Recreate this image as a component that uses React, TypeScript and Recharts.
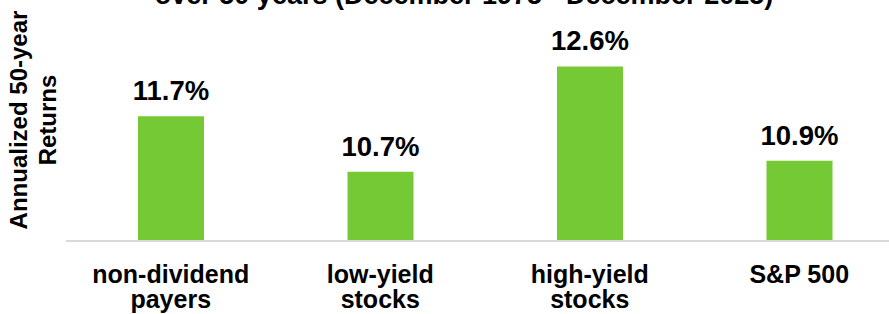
import { BarChart, Bar, XAxis, YAxis, LabelList } from "recharts";

const categories = ["non-dividend\npayers", "low-yield\nstocks", "high-yield\nstocks", "S&P 500"];
const returns = [11.7, 10.7, 12.6, 10.9];
const yLabelLines = ["Annualized 50-year", "Returns"];
const title = "over 50 years (December 1975 - December 2025)";

const data = categories.map((name, i) => ({ name, value: returns[i] }));

const FONT = "'Liberation Sans', Arial, sans-serif";

function CategoryTick(props: any) {
  const { x, y, payload } = props;
  const lines = String(payload.value).split("\n");
  return (
    <text
      x={x}
      y={y}
      textAnchor="middle"
      fontFamily={FONT}
      fontWeight={700}
      fontSize={25}
      fill="#000"
    >
      {lines.map((l, i) => (
        <tspan key={i} x={x} dy={i === 0 ? 42 : 25}>
          {l}
        </tspan>
      ))}
    </text>
  );
}

function ValueLabel(props: any) {
  const { x, y, width, value } = props;
  return (
    <text
      x={x + width / 2}
      y={y - 16}
      textAnchor="middle"
      fontFamily={FONT}
      fontWeight={700}
      fontSize={27.5}
      fill="#000"
    >
      {value.toFixed(1)}%
    </text>
  );
}

function YTitle() {
  const cy = 120;
  return (
    <text
      transform={`rotate(-90, 0, ${cy})`}
      x={0}
      y={cy}
      textAnchor="middle"
      fontFamily={FONT}
      fontWeight={700}
      fontSize={24}
      fill="#000"
    >
      {yLabelLines.map((l, i) => (
        <tspan key={i} x={0} dy={i === 0 ? 27 : 29}>
          {l}
        </tspan>
      ))}
    </text>
  );
}

export default function App() {
  return (
    <div
      style={{
        position: "absolute",
        left: 0,
        top: 0,
        width: 889,
        height: 314,
        overflow: "hidden",
        background: "#fff",
      }}
    >
      <BarChart
        width={910}
        height={314}
        data={data}
        margin={{ top: 11, right: 6, bottom: 0, left: 0 }}
      >
        <text
          x={464}
          y={4}
          textAnchor="middle"
          fontFamily={FONT}
          fontWeight={700}
          fontSize={27}
          fill="#000"
        >
          {title}
        </text>
        <XAxis
          dataKey="name"
          height={73}
          tickLine={false}
          tickSize={0}
          tickMargin={0}
          interval={0}
          axisLine={{ stroke: "#d9d9d9", strokeWidth: 2 }}
          tick={<CategoryTick />}
        />
        <YAxis
          width={66}
          domain={[9.45, 13.6]}
          tick={false}
          tickLine={false}
          axisLine={false}
          label={<YTitle />}
        />
        <Bar dataKey="value" fill="#74c935" barSize={66} isAnimationActive={false}>
          <LabelList dataKey="value" content={<ValueLabel />} />
        </Bar>
      </BarChart>
    </div>
  );
}
